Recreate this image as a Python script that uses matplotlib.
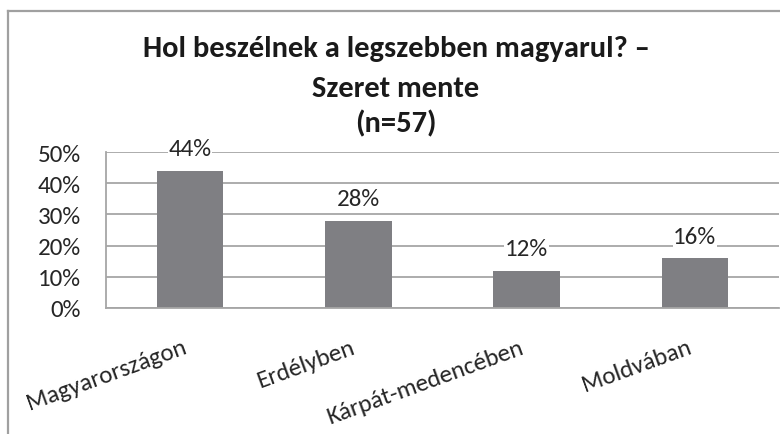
import matplotlib
matplotlib.use("Agg")
import matplotlib.pyplot as plt
from matplotlib.lines import Line2D
from matplotlib.transforms import offset_copy

plt.rcParams["font.family"] = ["Carlito", "Open Sans", "DejaVu Sans"]

categories = ["Magyarországon", "Erdélyben", "Kárpát-medencében", "Moldvában"]
values = [44, 28, 12, 16]
y_ticks = [0, 10, 20, 30, 40, 50]
title_lines = ["Hol beszélnek a legszebben magyarul? –", "Szeret mente", "(n=57)"]

BAR = "#7f7f83"
GRID = "#a6a6a6"
TEXT = "#262626"
FS = 18

fig = plt.figure(figsize=(7.8, 4.35), dpi=100)
ax = fig.add_axes([106 / 780, 1 - 309 / 435, 673 / 780, 156 / 435])

x = list(range(len(categories)))
bars = ax.bar(x, values, width=0.395, color=BAR, zorder=2)
ax.set_xlim(-0.5, len(categories) - 0.5)
ax.set_ylim(0, 50)

ax.set_yticks(y_ticks)
ax.set_yticklabels([f"{v}%" for v in y_ticks])
ax.yaxis.grid(True, color=GRID, linewidth=1.3, zorder=0)
ax.set_axisbelow(True)
ax.tick_params(axis="y", length=0, pad=18, labelsize=FS, labelcolor=TEXT)
ax.tick_params(axis="x", length=0)

ax.set_xticks(x)
ax.set_xticklabels([])
# rotated category labels: baseline ends just left of the category centre
for xi, cat in zip(x, categories):
    tr = offset_copy(ax.get_xaxis_transform(), fig=fig, x=-2, y=-44, units="dots")
    ax.text(xi, 0, cat, transform=tr, rotation=20, rotation_mode="anchor",
            ha="right", va="baseline", fontsize=FS, color=TEXT)

for s in ["top", "right"]:
    ax.spines[s].set_visible(False)
for s in ["left", "bottom"]:
    ax.spines[s].set_color(GRID)
    ax.spines[s].set_linewidth(1.3)

for rect, v in zip(bars, values):
    ax.annotate(f"{v}%", (rect.get_x() + rect.get_width() / 2, v),
                xytext=(0, 11), textcoords="offset points",
                ha="center", va="baseline", fontsize=FS, color=TEXT,
                bbox=dict(facecolor="white", edgecolor="none", pad=0.5), zorder=3)

# title lines, centred and placed line by line
title_base = [57, 97, 132]
for ty, line in zip(title_base, title_lines):
    fig.text(396 / 780, 1 - ty / 435, line, ha="center", va="baseline",
             fontsize=22, fontweight="bold", color="#1a1a1a")

# chart area border (top and left edges visible)
fig.add_artist(Line2D([7.5 / 780, 1.01], [1 - 12 / 435] * 2, color="#a0a0a0", linewidth=1.6))
fig.add_artist(Line2D([7.5 / 780] * 2, [-0.01, 1 - 12 / 435], color="#a0a0a0", linewidth=1.6))

fig.savefig("out.png", dpi=100)
